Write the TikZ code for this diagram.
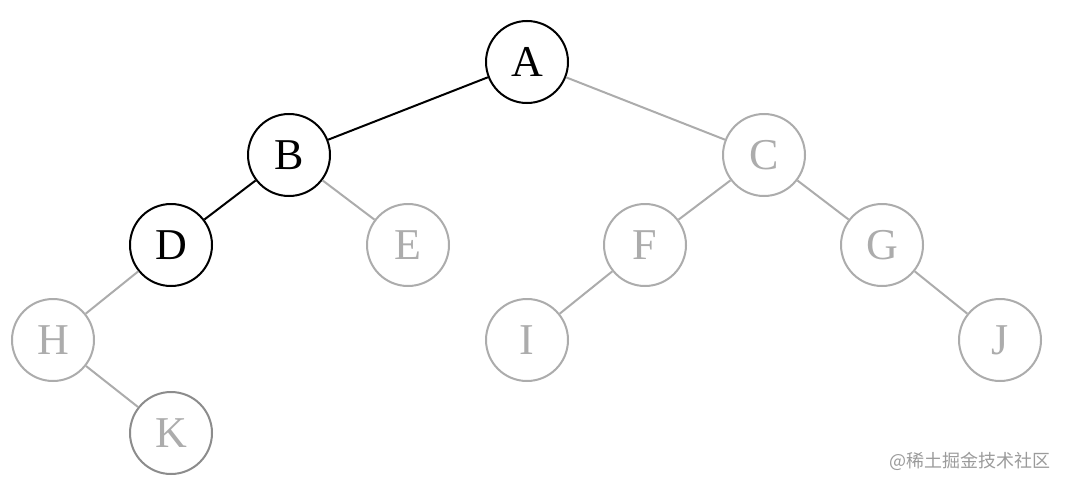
\documentclass[tikz,border=0pt]{standalone}
\usepackage{fontspec}
\setmainfont{Liberation Serif}
\newfontfamily\cjk{Noto Sans CJK SC}
\definecolor{grau}{RGB}{172,172,172}
\definecolor{dunkelgrau}{RGB}{140,140,140}
\begin{document}
\begin{tikzpicture}[x=1pt,y=-1pt,
    knoten/.style={circle,draw,line width=2pt,minimum size=82pt,inner sep=0pt,
      fill=white,font=\fontsize{44}{44}\selectfont},
    blass/.style={draw=grau,text=grau},
    kante/.style={line width=2pt}]
  \useasboundingbox (0,0) rectangle (1067,487);
  % Schwarze Knoten (Pfad)
  \foreach \n/\x/\y in {A/527/62,B/289/155,D/171/245}
  \node[knoten] (\n) at (\x,\y) {\n};
  % Graue Knoten
  \foreach \n/\x/\y in {C/764/155,E/408/245,F/645/245,G/882/245,H/53/340,I/527/340,J/1000/340}
  \node[knoten,blass] (\n) at (\x,\y) {\n};
  \node[knoten,blass,draw=dunkelgrau] (K) at (171,433) {K};
  % Kanten
  \foreach \a/\b in {A/B,B/D}
  \draw[kante] (\a) -- (\b);
  \foreach \a/\b in {A/C,B/E,C/F,C/G,D/H,H/K,F/I,G/J}
  \draw[kante,grau] (\a) -- (\b);
  % Wasserzeichen
  \node[text=grau!90!black,font=\cjk\fontsize{18}{18}\selectfont] (wz) at (970,461) {@稀土掘金技术社区};
\end{tikzpicture}
\end{document}
